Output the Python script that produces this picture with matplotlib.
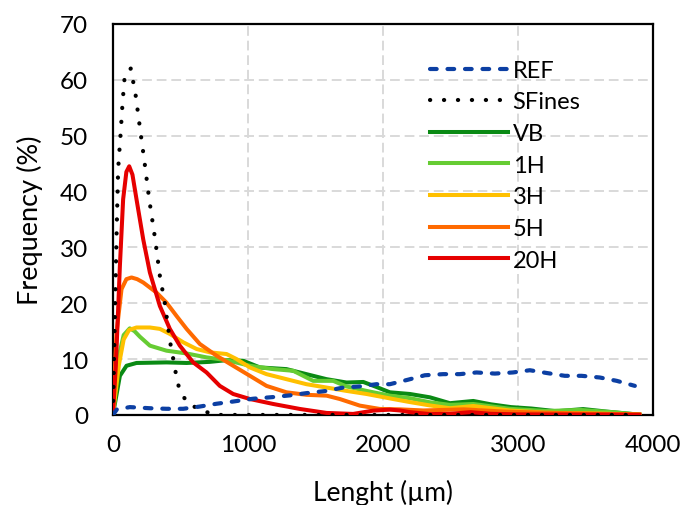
import matplotlib
matplotlib.use("Agg")
import matplotlib.pyplot as plt

plt.rcParams['font.family'] = ['Lato', 'DejaVu Sans']

# REF (blue dashed)
ref_x = [0, 30, 126, 274, 397, 521, 644, 768, 891, 1039, 1188, 1311, 1434, 1583, 1706, 1829,
         1953, 2052, 2186, 2311, 2447, 2570, 2694, 2830, 2963, 3089, 3215, 3348, 3472, 3607,
         3733, 3867]
ref_y = [0, 1.0, 1.4, 1.2, 1.1, 1.1, 1.5, 2.0, 2.4, 2.9, 3.2, 3.5, 3.9, 4.3, 4.9, 5.1,
         5.5, 5.5, 6.3, 7.1, 7.3, 7.3, 7.6, 7.4, 7.6, 8.0, 7.5, 7.0, 7.0, 6.7,
         6.1, 5.2]

# SFines (black dotted)
sf_x = [0, 15, 27, 39, 59, 72, 89, 133, 170, 205, 232, 269, 311, 348, 385, 422, 459, 476,
        503, 558, 644, 750, 1000, 1500, 2000, 2500, 3000, 3500, 3900]
sf_y = [0, 18, 32, 44, 51, 56, 61, 62, 57, 50.5, 45.7, 38.6, 31.8, 24.9, 20, 13.3, 8.5, 6,
        4, 2, 1, 0, 0, 0, 0, 0, 0, 0, 0]

# VB (dark green)
vb_x = [0, 52, 101, 175, 397, 546, 718, 842, 965, 1089, 1286, 1434, 1583, 1731, 1855, 1953,
        2052, 2200, 2349, 2497, 2670, 2800, 2950, 3100, 3287, 3484, 3657, 3900]
vb_y = [0, 7.0, 8.8, 9.3, 9.4, 9.3, 9.5, 9.8, 9.7, 8.5, 8.2, 7.3, 6.4, 5.8, 5.9, 5.0,
        4.05, 3.75, 3.15, 2.1, 2.5, 1.9, 1.4, 1.15, 0.66, 1.05, 0.6, 0.05]

# 1H (light green)
h1_x = [0, 15, 39, 80, 125, 160, 200, 274, 397, 546, 694, 842, 1015, 1188, 1336, 1484, 1632,
        1731, 1879, 2052, 2200, 2349, 2497, 2670, 2941, 3215, 3460, 3700, 3900]
h1_y = [0, 4, 10, 14.3, 15.5, 15.0, 14.0, 12.4, 11.5, 11.0, 10.3, 9.8, 8.8, 8.2, 7.9, 6.1, 6.1,
        5.1, 4.3, 3.45, 3.0, 2.26, 1.8, 1.96, 1.1, 0.7, 0.9, 0.5, 0.05]

# 3H (yellow)
h3_x = [0, 20, 45, 80, 120, 175, 274, 348, 422, 521, 620, 718, 842, 916, 1015, 1138, 1286,
        1434, 1583, 1731, 1879, 2076, 2200, 2349, 2497, 2670, 2941, 3212, 3500, 3900]
h3_y = [0, 4, 9, 13.5, 15.2, 15.65, 15.65, 15.4, 14.5, 13.0, 11.8, 11.2, 10.9, 10.0, 8.5,
        7.3, 6.4, 5.5, 4.9, 4.3, 3.75, 2.85, 2.3, 1.7, 1.2, 1.6, 0.8, 0.4, 0.3, 0.1]

# 5H (orange)
h5_x = [0, 27, 64, 100, 138, 180, 225, 323, 397, 472, 546, 644, 768, 891, 1015, 1138, 1286,
        1434, 1583, 1681, 1829, 1978, 2126, 2300, 2600, 2900, 3200, 3600, 3900]
h5_y = [0, 14.7, 22.5, 24.3, 24.6, 24.3, 23.7, 21.9, 20.1, 17.7, 15.4, 12.7, 10.6, 8.8, 7.0,
        5.2, 4.05, 3.6, 3.45, 2.85, 1.67, 1.07, 1.0, 0.8, 1.0, 0.6, 0.4, 0.2, 0.05]

# 20H (red)
h20_x = [0, 22, 52, 76, 100, 121, 145, 175, 225, 274, 348, 422, 496, 595, 694, 792, 891,
         1015, 1188, 1385, 1583, 1780, 1928, 2052, 2126, 2200, 2350, 2500, 2650, 2800, 3000,
         3900]
h20_y = [0, 8.8, 26.7, 38.6, 43.5, 44.5, 43.0, 38.6, 31.4, 25.5, 19.5, 15.4, 12.4, 9.4, 7.6,
         5.2, 3.75, 2.85, 1.96, 1.07, 0.36, 0.18, 0.77, 0.95, 0.8, 0.5, 0.15, 0.2, 0.5, 0.2,
         0.1, 0.05]

x_ticks = [0, 1000, 2000, 3000, 4000]
y_ticks = [0, 10, 20, 30, 40, 50, 60, 70]

fig = plt.figure(figsize=(6.8, 5.06), dpi=100)
ax = fig.add_axes([0.166, 0.178, 0.794, 0.773])

lw = 2.9
ax.plot(sf_x, sf_y, color='black', lw=3.0, linestyle=(0, (0.05, 3.3)),
        dash_capstyle='round', label='SFines', zorder=4)
ax.plot(vb_x, vb_y, color='#0A8A14', lw=lw, label='VB', zorder=3)
ax.plot(h1_x, h1_y, color='#66CC33', lw=lw, label='1H', zorder=3)
ax.plot(h3_x, h3_y, color='#FFC000', lw=lw, label='3H', zorder=3)
ax.plot(h5_x, h5_y, color='#FF6A00', lw=lw, label='5H', zorder=3)
ax.plot(h20_x, h20_y, color='#E60000', lw=lw, label='20H', zorder=3)
ax.plot(ref_x, ref_y, color='#0C3FA3', lw=3.0, linestyle=(0, (1.6, 2.6)),
        dash_capstyle='round', label='REF', zorder=5)

ax.set_xlim(0, 4000)
ax.set_ylim(0, 70)
ax.set_xticks(x_ticks)
ax.set_yticks(y_ticks)
ax.tick_params(length=0, labelsize=17.5)
ax.tick_params(axis='x', pad=14)
ax.tick_params(axis='y', pad=18)
ax.grid(True, color='#D9D9D9', lw=1.4, linestyle=(0, (5, 2.5)))
ax.set_axisbelow(True)
for s in ax.spines.values():
    s.set_color('black')
    s.set_linewidth(1.6)

ax.set_xlabel('Lenght (µm)', fontsize=19, labelpad=17)
ax.set_ylabel('Frequency (%)', fontsize=19.5, labelpad=12)

handles, labels = ax.get_legend_handles_labels()
order = ['REF', 'SFines', 'VB', '1H', '3H', '5H', '20H']
hmap = dict(zip(labels, handles))
ax.legend([hmap[k] for k in order], order, loc='upper left', bbox_to_anchor=(0.587, 0.908),
          frameon=False, fontsize=17, handlelength=3.3, handletextpad=0.21,
          labelspacing=0.45, borderpad=0, borderaxespad=0)

fig.savefig('out.png', dpi=100)
